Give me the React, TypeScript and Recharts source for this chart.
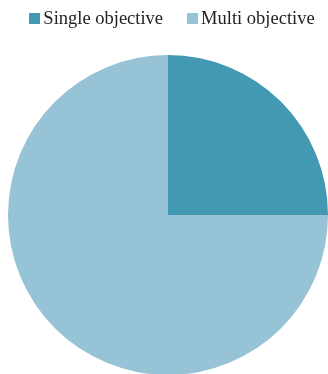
import { Cell, Legend, Pie, PieChart } from "recharts";

const categories = ["Single objective", "Multi objective"];
const shares = [25, 75];
const colors = ["#4399b1", "#96c4d6"];

const data = categories.map((name, i) => ({ name, value: shares[i] }));

const renderLegend = () => (
  <div
    style={{
      display: "flex",
      justifyContent: "center",
      gap: 24,
      fontFamily: "'Liberation Serif', serif",
      fontSize: 18.5,
      color: "#222",
      lineHeight: "20px",
    }}
  >
    {categories.map((c, i) => (
      <span key={c} style={{ display: "flex", alignItems: "center" }}>
        <span
          style={{
            width: 11,
            height: 11,
            background: colors[i],
            marginRight: 3,
            display: "inline-block",
          }}
        />
        {c}
      </span>
    ))}
  </div>
);

export default function App() {
  return (
    <div style={{ position: "fixed", left: 0, top: 0, width: 328, height: 374 }}>
      <PieChart width={328} height={374} margin={{ top: 0, right: 0, bottom: 0, left: 0 }}>
        <Legend
          verticalAlign="top"
          content={renderLegend}
          wrapperStyle={{ top: 8, left: 8, width: 328 }}
        />
        <Pie
          data={data}
          dataKey="value"
          nameKey="name"
          cx={168}
          cy={195}
          outerRadius={160}
          startAngle={90}
          endAngle={-270}
          stroke="none"
          isAnimationActive={false}
        >
          {data.map((d, i) => (
            <Cell key={d.name} fill={colors[i]} />
          ))}
        </Pie>
      </PieChart>
    </div>
  );
}
